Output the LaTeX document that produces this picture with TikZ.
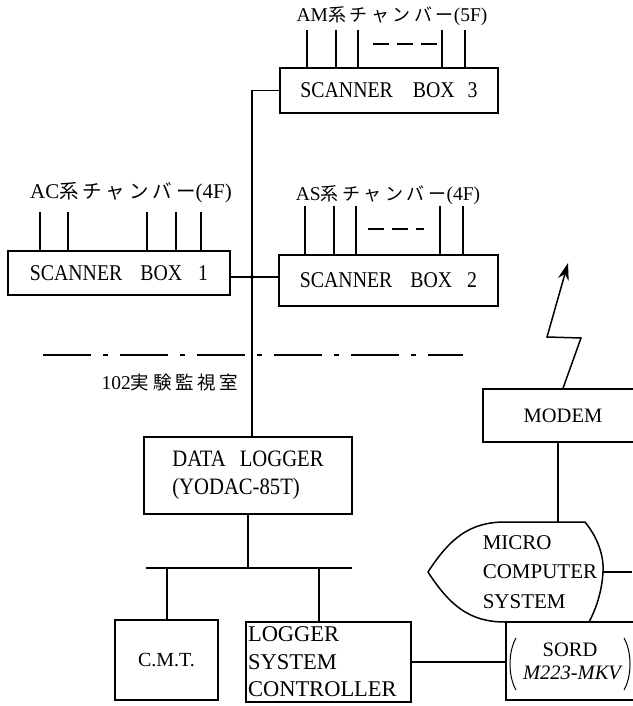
\documentclass[tikz,border=0pt]{standalone}
\usepackage{fontspec}
\setmainfont{Liberation Serif}
\newfontfamily\cond[FakeStretch=0.88]{Liberation Serif}
\newfontfamily\cjk[LetterSpace=20]{Noto Sans CJK JP}
\usetikzlibrary{arrows.meta}
\begin{document}
\begin{tikzpicture}[x=1pt,y=-1pt,line width=1.5pt,
  box/.style={draw,rectangle,inner sep=0pt,font=\fontsize{20}{24}\selectfont},
  sbox/.style={box,font=\cond\fontsize{22.5}{26}\selectfont},
  lbl/.style={inner sep=0pt,font=\fontsize{19.5}{22}\selectfont},
  dashgrp/.style={dash pattern=on 16pt off 8pt},
  roomline/.style={dash pattern=on 48pt off 12pt on 5pt off 12pt},
  mtext/.style={inner sep=0pt,align=left,font=\fontsize{21}{29.5}\selectfont},
  paren/.style={line width=1pt}
  ]
\useasboundingbox (0,0) rectangle (632,706);

% scanner boxes
\node[sbox,minimum width=218pt,minimum height=45pt] (sb3) at (389,90.5)
  {SCANNER\hspace{20pt}BOX\hspace{13pt}3};
\node[sbox,minimum width=222pt,minimum height=44pt] (sb1) at (119,273)
  {SCANNER\hspace{18pt}BOX\hspace{16pt}1};
\node[sbox,minimum width=219pt,minimum height=51pt] (sb2) at (388.5,280.5)
  {SCANNER\hspace{18pt}BOX\hspace{15pt}2};

% chamber labels
\node[lbl] (am) at (392,16) {AM{\cjk\fontsize{18}{22}\selectfont 系チャンバー}(5F)};
\node[lbl,font=\fontsize{21}{22}\selectfont] (ac) at (131,193) {AC{\cjk\fontsize{19.5}{22}\selectfont 系チャンバー}(4F)};
\node[lbl] (as) at (388,195) {AS{\cjk\fontsize{18}{22}\selectfont 系チャンバー}(4F)};

% leads
\foreach \x [count=\i] in {307,336,358,442,465}{
  \coordinate (amL\i) at (\x,30);
  \draw (amL\i) -- (amL\i |- sb3.north);}
\foreach \x [count=\i] in {40,68,147,176,201}{
  \coordinate (acL\i) at (\x,212);
  \draw (acL\i) -- (acL\i |- sb1.north);}
\foreach \x [count=\i] in {305,334,356,440,463}{
  \coordinate (asL\i) at (\x,206);
  \draw (asL\i) -- (asL\i |- sb2.north);}
\draw[dashgrp] (373,44) -- (437,44);
\draw[dashgrp] (368,229) -- (424,229);

% data logger
\node[box,minimum width=208pt,minimum height=77pt,align=left,
  font=\cond\fontsize{23.5}{28}\selectfont] (dl) at (248,475.5)
  {DATA\hspace{14pt}LOGGER\\(YODAC-85T)};

% trunk
\coordinate (trunk) at (252,90.5);
\draw (sb3.west) -- (trunk) -- (trunk |- dl.north);
\coordinate (c12) at (252,277);
\draw (sb1.east |- c12) -- (sb2.west |- c12);
\fill (c12) circle (2pt);

% room boundary
\draw[roomline] (43,355) -- (463,355);
\node[inner sep=0pt,font=\fontsize{19.5}{22}\selectfont] (room) at (170,382) {102{\cjk\fontsize{18.5}{22}\selectfont 実験監視室}};

% bus
\coordinate (busL) at (146,568);
\coordinate (busR) at (352,568);
\draw (busL) -- (busR);
\draw (dl.south) -- (dl.south |- busL);

\node[box,minimum width=103pt,minimum height=80pt] (cmt) at (166.5,660) {C.M.T.};
\node[box,minimum width=165pt,minimum height=80pt,align=left,text width=161pt,
  inner xsep=2pt,font=\fontsize{22.5}{27.5}\selectfont] (lsc) at (328.5,662)
  {LOGGER\\SYSTEM\\CONTROLLER};
\coordinate (dropA) at (167,568);
\coordinate (dropB) at (319,568);
\draw (dropA) -- (dropA |- cmt.north);
\draw (dropB) -- (dropB |- lsc.north);

% modem
\node[box,minimum width=160pt,minimum height=53pt,font=\fontsize{20.5}{24}\selectfont] (modem) at (563,415.5) {MODEM};
\coordinate (z1) at (581,338);
\coordinate (z2) at (547,337);
\coordinate (z3) at (568,263);
\draw[-{Stealth[length=17pt,width=11pt]}] (modem.north) -- (z1) -- (z2) -- (z3);

% micro computer
\draw (428,572) .. controls (450,538) and (470,522) .. (505,522) -- (585,522)
  .. controls (598,538) and (604,556) .. (603,572)
  .. controls (602,590) and (597,607) .. (589,622) -- (505,622)
  .. controls (470,622) and (450,606) .. (428,572) -- cycle;
\node[mtext,anchor=west] (micro) at (482,572) {MICRO\\COMPUTER\\SYSTEM};
\coordinate (mtop) at (558,522);
\coordinate (mright) at (603,572);
\coordinate (redge) at (632,572);
\draw (mtop |- modem.south) -- (mtop);
\draw (mright) -- (redge);

% sord
\node[box,minimum width=134pt,minimum height=78pt,align=center,
  font=\fontsize{20.5}{24}\selectfont] (sord) at (573,661)
  {\hspace*{-6pt}SORD\\[-1pt]\textit{M223-MKV}};
\draw[paren] (516,638) .. controls (508,652) and (508,676) .. (516,690);
\draw[paren] (624,638) .. controls (632,652) and (632,676) .. (624,690);
\draw (lsc.east) -- (lsc.east -| sord.west);
\end{tikzpicture}
\end{document}
